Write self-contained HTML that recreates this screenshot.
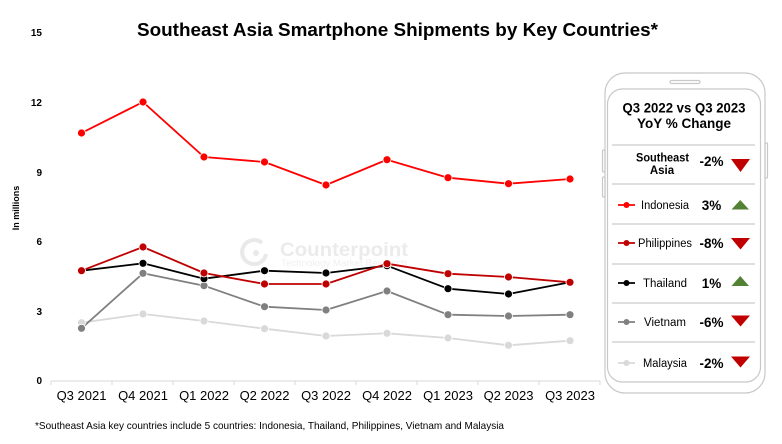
<!DOCTYPE html>
<html><head><meta charset="utf-8"><style>
html,body{margin:0;padding:0;background:#fff;}
svg{display:block;font-family:"Liberation Sans",Arial,sans-serif;}
</style></head><body>
<svg width="782" height="444" viewBox="0 0 782 444" xmlns="http://www.w3.org/2000/svg">
<rect width="782" height="444" fill="#fff"/>
<!-- Title -->
<text x="137" y="36" font-size="18" font-weight="bold" fill="#000" textLength="521" lengthAdjust="spacingAndGlyphs">Southeast Asia Smartphone Shipments by Key Countries*</text>
<!-- Y axis labels -->
<g font-size="10" font-weight="bold" fill="#000" text-anchor="end">
<text x="42" y="36">15</text>
<text x="42" y="106">12</text>
<text x="42" y="176">9</text>
<text x="42" y="245">6</text>
<text x="42" y="315">3</text>
<text x="42" y="384">0</text>
</g>
<text transform="translate(19,208) rotate(-90)" font-size="9" font-weight="bold" text-anchor="middle" fill="#000">In millions</text>
<!-- Watermark -->
<g opacity="1">
<path d="M 262 243 A 12 12 0 1 0 266 254" fill="none" stroke="#e9e9e9" stroke-width="4"/>
<circle cx="256" cy="253" r="3" fill="#e9e9e9"/>
<text x="280" y="256" font-size="19" font-weight="bold" fill="#ebebeb" textLength="128" lengthAdjust="spacingAndGlyphs">Counterpoint</text>
<text x="281" y="266" font-size="9" fill="#efefef" textLength="126" lengthAdjust="spacingAndGlyphs">Technology Market Research</text>
</g>
<!-- X axis -->
<line x1="51" y1="381" x2="600" y2="381" stroke="#d9d9d9" stroke-width="1"/>
<g stroke="#d9d9d9" stroke-width="1">
<line x1="51" y1="381" x2="51" y2="385"/><line x1="112" y1="381" x2="112" y2="385"/><line x1="173" y1="381" x2="173" y2="385"/><line x1="234" y1="381" x2="234" y2="385"/><line x1="295" y1="381" x2="295" y2="385"/><line x1="356" y1="381" x2="356" y2="385"/><line x1="417" y1="381" x2="417" y2="385"/><line x1="478" y1="381" x2="478" y2="385"/><line x1="539" y1="381" x2="539" y2="385"/><line x1="600" y1="381" x2="600" y2="385"/>
</g>
<g font-size="13" fill="#000" text-anchor="middle">
<text x="81.5" y="400">Q3 2021</text>
<text x="143" y="400">Q4 2021</text>
<text x="204" y="400">Q1 2022</text>
<text x="264.5" y="400">Q2 2022</text>
<text x="326" y="400">Q3 2022</text>
<text x="387" y="400">Q4 2022</text>
<text x="448" y="400">Q1 2023</text>
<text x="508.5" y="400">Q2 2023</text>
<text x="570" y="400">Q3 2023</text>
</g>
<!-- Series -->
<g fill="none" stroke-width="1.8" stroke-linejoin="round">
<polyline stroke="#d9d9d9" points="81.5,322.7 143,314 204,321 264.5,328.7 326,336 387,333.3 448,338 508.5,345.3 570,340.7"/>
<polyline stroke="#808080" points="81.5,328.3 143,273.3 204,285.7 264.5,306.7 326,310 387,291 448,314.7 508.5,316 570,314.7"/>
<polyline stroke="#000000" points="81.5,270.7 143,263.3 204,278.7 264.5,270.7 326,273 387,265.7 448,288.7 508.5,294 570,282.3"/>
<polyline stroke="#c00000" points="81.5,270.7 143,247 204,273 264.5,284 326,284 387,263.7 448,273.7 508.5,277 570,282.3"/>
<polyline stroke="#ff0000" points="81.5,133 143,102 204,157 264.5,162 326,185 387,159.7 448,177.7 508.5,183.7 570,179"/>
</g>
<g stroke="#fff" stroke-width="0.8">
<g fill="#d9d9d9"><circle cx="81.5" cy="322.7" r="4"/><circle cx="143" cy="314" r="4"/><circle cx="204" cy="321" r="4"/><circle cx="264.5" cy="328.7" r="4"/><circle cx="326" cy="336" r="4"/><circle cx="387" cy="333.3" r="4"/><circle cx="448" cy="338" r="4"/><circle cx="508.5" cy="345.3" r="4"/><circle cx="570" cy="340.7" r="4"/></g>
<g fill="#808080"><circle cx="81.5" cy="328.3" r="4"/><circle cx="143" cy="273.3" r="4"/><circle cx="204" cy="285.7" r="4"/><circle cx="264.5" cy="306.7" r="4"/><circle cx="326" cy="310" r="4"/><circle cx="387" cy="291" r="4"/><circle cx="448" cy="314.7" r="4"/><circle cx="508.5" cy="316" r="4"/><circle cx="570" cy="314.7" r="4"/></g>
<g fill="#000"><circle cx="81.5" cy="270.7" r="4"/><circle cx="143" cy="263.3" r="4"/><circle cx="204" cy="278.7" r="4"/><circle cx="264.5" cy="270.7" r="4"/><circle cx="326" cy="273" r="4"/><circle cx="387" cy="265.7" r="4"/><circle cx="448" cy="288.7" r="4"/><circle cx="508.5" cy="294" r="4"/><circle cx="570" cy="282.3" r="4"/></g>
<g fill="#c00000"><circle cx="81.5" cy="270.7" r="4"/><circle cx="143" cy="247" r="4"/><circle cx="204" cy="273" r="4"/><circle cx="264.5" cy="284" r="4"/><circle cx="326" cy="284" r="4"/><circle cx="387" cy="263.7" r="4"/><circle cx="448" cy="273.7" r="4"/><circle cx="508.5" cy="277" r="4"/><circle cx="570" cy="282.3" r="4"/></g>
<g fill="#ff0000"><circle cx="81.5" cy="133" r="4"/><circle cx="143" cy="102" r="4"/><circle cx="204" cy="157" r="4"/><circle cx="264.5" cy="162" r="4"/><circle cx="326" cy="185" r="4"/><circle cx="387" cy="159.7" r="4"/><circle cx="448" cy="177.7" r="4"/><circle cx="508.5" cy="183.7" r="4"/><circle cx="570" cy="179" r="4"/></g>
</g>
<!-- Footnote -->
<text x="35" y="429" font-size="10.5" fill="#000" textLength="469" lengthAdjust="spacingAndGlyphs">*Southeast Asia key countries include 5 countries: Indonesia, Thailand, Philippines, Vietnam and Malaysia</text>
<!-- Phone frame -->
<g fill="none" stroke="#c8c8c8" stroke-width="1.2">
<rect x="605" y="73" width="160" height="320" rx="20" ry="20" fill="#fff"/>
<rect x="607.5" y="89" width="153" height="293" rx="15" ry="15"/>
<rect x="670" y="80.5" width="30" height="3" rx="1.5"/>
<rect x="602.5" y="150" width="2.5" height="22" rx="1"/>
<rect x="602.5" y="177" width="2.5" height="20" rx="1"/>
<rect x="765" y="143" width="2.5" height="35" rx="1"/>
</g>
<g stroke="#bfbfbf" stroke-width="1">
<line x1="612" y1="145" x2="755" y2="145"/>
<line x1="612" y1="184" x2="755" y2="184"/>
<line x1="612" y1="224" x2="755" y2="224"/>
<line x1="612" y1="264" x2="755" y2="264"/>
<line x1="612" y1="303" x2="755" y2="303"/>
<line x1="612" y1="342" x2="755" y2="342"/>
</g>
<g font-weight="bold" fill="#000" text-anchor="middle">
<text x="684" y="112.5" font-size="13.5" textLength="123" lengthAdjust="spacingAndGlyphs">Q3 2022 vs Q3 2023</text>
<text x="684" y="128" font-size="13.5">YoY % Change</text>
<text x="662.5" y="161.5" font-size="11.5" textLength="53" lengthAdjust="spacingAndGlyphs">Southeast</text>
<text x="662" y="174" font-size="11.5">Asia</text>
</g>
<g font-weight="bold" font-size="13.5" fill="#000" text-anchor="middle">
<text x="711.5" y="166">-2%</text>
<text x="711.5" y="210">3%</text>
<text x="711.5" y="248">-8%</text>
<text x="711.5" y="288">1%</text>
<text x="711.5" y="327">-6%</text>
<text x="711.5" y="368">-2%</text>
</g>
<g font-size="11.5" fill="#000">
<text x="641" y="209" textLength="48" lengthAdjust="spacingAndGlyphs">Indonesia</text>
<text x="638" y="247" textLength="54" lengthAdjust="spacingAndGlyphs">Philippines</text>
<text x="643" y="287" textLength="44" lengthAdjust="spacingAndGlyphs">Thailand</text>
<text x="644" y="326" textLength="42" lengthAdjust="spacingAndGlyphs">Vietnam</text>
<text x="643" y="367" textLength="44" lengthAdjust="spacingAndGlyphs">Malaysia</text>
</g>
<!-- legend markers -->
<g stroke-width="1.8">
<line x1="618" y1="205" x2="635" y2="205" stroke="#ff0000"/><circle cx="626.5" cy="205" r="3" fill="#ff0000"/>
<line x1="618" y1="243" x2="635" y2="243" stroke="#c00000"/><circle cx="626.5" cy="243" r="3" fill="#c00000"/>
<line x1="618" y1="283" x2="635" y2="283" stroke="#000"/><circle cx="626.5" cy="283" r="3" fill="#000"/>
<line x1="618" y1="322" x2="635" y2="322" stroke="#808080"/><circle cx="626.5" cy="322" r="3" fill="#808080"/>
<line x1="618" y1="363" x2="635" y2="363" stroke="#d9d9d9"/><circle cx="626.5" cy="363" r="3" fill="#d9d9d9"/>
</g>
<!-- triangles -->
<g>
<polygon points="731,159 750,159 740.5,172" fill="#c00000"/>
<polygon points="731.5,209.5 749,209.5 740.25,200" fill="#548235"/>
<polygon points="731,238 750,238 740.5,249.5" fill="#c00000"/>
<polygon points="731.5,286 749,286 740.25,276" fill="#548235"/>
<polygon points="731,315.5 750,315.5 740.5,326.5" fill="#c00000"/>
<polygon points="731,356.5 750,356.5 740.5,367.5" fill="#c00000"/>
</g>
</svg>
</body></html>
